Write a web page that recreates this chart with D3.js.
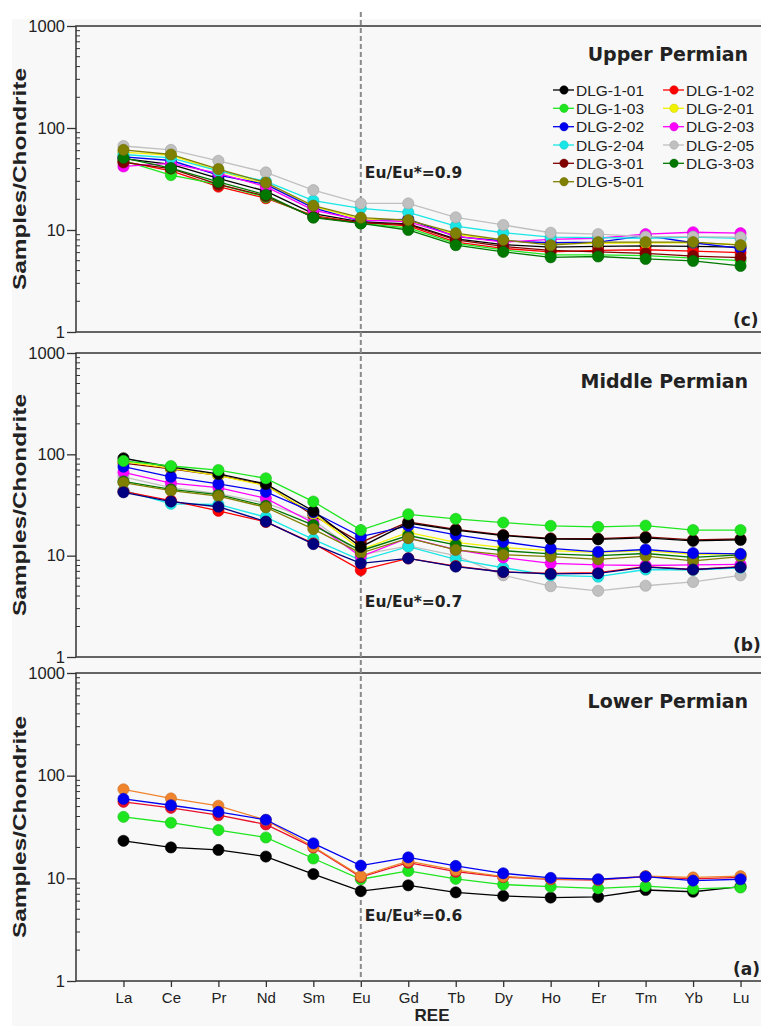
<!DOCTYPE html>
<html>
<head>
<meta charset="utf-8">
<script src="https://cdn.jsdelivr.net/npm/d3@7/dist/d3.min.js"></script>
<style>
  html, body { margin: 0; padding: 0; background: #ffffff; }
  svg { display: block; }
  text { font-family: "Liberation Sans", Arial, sans-serif; fill: #222; }
</style>
</head>
<body>
<svg id="chart" width="761" height="1026"></svg>
<script>
// Rare earth elements along the x axis
const ree = ["La", "Ce", "Pr", "Nd", "Sm", "Eu", "Gd", "Tb", "Dy", "Ho", "Er", "Tm", "Yb", "Lu"];

// Log axis tick labels
const yTicks = [1, 10, 100, 1000];

// Upper Permian samples (chondrite-normalised)
const upperIds = ["DLG-1-01", "DLG-1-02", "DLG-1-03", "DLG-2-01", "DLG-2-02", "DLG-2-03",
                  "DLG-2-04", "DLG-2-05", "DLG-3-01", "DLG-3-03", "DLG-5-01"];
const upperValues = [
  [50, 44, 32, 24, 14.5, 12.0, 11.5, 8.2, 7.2, 6.8, 6.9, 7.0, 6.9, 6.8],
  [47, 38, 26.6, 20.5, 13.8, 11.8, 11.0, 7.6, 6.6, 6.1, 6.3, 6.4, 6.2, 6.0],
  [48, 34.5, 28, 21, 13.5, 11.6, 10.5, 7.4, 6.4, 5.7, 5.7, 5.6, 5.3, 5.0],
  [58, 54, 38, 28, 17, 12.8, 12.4, 9.0, 7.9, 7.3, 7.4, 7.5, 7.5, 7.2],
  [52, 48, 34.5, 28, 16.5, 12.2, 12.8, 8.6, 7.8, 7.5, 7.6, 8.8, 7.5, 6.6],
  [42, 45, 36, 26.6, 15.7, 12.5, 12.1, 8.7, 7.6, 8.1, 8.3, 9.1, 9.5, 9.3],
  [55, 51, 38, 30, 19.4, 16.3, 14.9, 10.9, 9.4, 8.5, 8.4, 8.3, 8.5, 8.3],
  [66.6, 61, 47.7, 36.7, 24.6, 18.2, 18.2, 13.3, 11.2, 9.4, 9.1, 8.6, 8.6, 8.5],
  [46, 40, 28, 21.5, 13.4, 11.8, 11.3, 8.0, 6.9, 6.3, 6.1, 5.9, 5.55, 5.35],
  [51, 40.5, 29.6, 22.1, 13.2, 11.6, 10.0, 7.1, 6.1, 5.4, 5.5, 5.2, 4.97, 4.44],
  [61, 55, 39.6, 29.1, 17.3, 13.2, 12.5, 9.3, 8.0, 7.1, 7.6, 7.6, 7.6, 7.1]
];

// Middle Permian samples
const middleIds = ["DLG-2-05", "DLG-2-04", "DLG-1-02", "DLG-3-01", "DLG-2-03", "DLG-2-01",
                   "DLG-3-03", "DLG-5-01", "DLG-2-02", "DLG-1-01", "DLG-1-03", "DLG-4-01"];
const middleValues = [
  [60, 47, 41, 33, 22.5, 10.2, 12.5, 10.0, 6.4, 5.0, 4.5, 5.05, 5.5, 6.4],
  [44, 32.5, 32, 24, 14.5, 9.0, 12.3, 9.2, 7.6, 6.4, 6.2, 7.3, 7.2, 7.6],
  [43, 35, 27.7, 21.5, 13.2, 7.2, 9.4, 7.9, 6.9, 6.7, 6.8, 7.8, 7.3, 7.8],
  [82, 72, 62, 50, 25, 13.5, 21.5, 18.2, 16.0, 14.8, 14.7, 15.3, 14.3, 14.6],
  [66.5, 52, 47, 36.8, 21, 9.8, 15, 11.5, 9.6, 8.4, 8.1, 8.0, 8.1, 8.2],
  [84.7, 73, 61.6, 49, 26, 11.5, 17, 13.5, 12, 11.2, 10.8, 11.2, 10.3, 10.4],
  [54, 45, 40, 31, 20, 11.2, 15.8, 12.8, 11.2, 10.4, 10.0, 10.5, 9.6, 10.2],
  [52.7, 43.8, 38.7, 30, 18.3, 10.6, 14.9, 11.4, 10.2, 9.8, 9.2, 9.9, 8.9, 9.8],
  [75.5, 60, 51.2, 42.6, 26.8, 15.4, 19.7, 16, 13.7, 11.8, 10.9, 11.5, 10.6, 10.4],
  [91.5, 75, 64, 51, 27.5, 12.2, 21, 17.9, 15.8, 14.6, 14.5, 15, 14, 14.3],
  [86, 76.7, 70, 58, 34.2, 17.9, 25.6, 23.1, 21.2, 19.7, 19.2, 19.8, 17.9, 17.9],
  [42.2, 34.2, 30.4, 21.7, 13, 8.4, 9.4, 7.8, 6.9, 6.6, 6.7, 7.7, 7.3, 7.7]
];

// Lower Permian samples
const lowerIds = ["DLG-L-1", "DLG-L-2", "DLG-L-3", "DLG-L-4", "DLG-L-5"];
const lowerValues = [
  [23.2, 20.0, 18.9, 16.3, 11.0, 7.5, 8.55, 7.3, 6.75, 6.5, 6.6, 7.7, 7.4, 8.3],
  [39.7, 34.8, 29.5, 25.0, 15.6, 9.8, 11.8, 9.9, 8.7, 8.3, 8.0, 8.4, 7.9, 8.15],
  [55.6, 48.6, 41.2, 33.5, 20.0, 10.3, 14.2, 11.6, 10.3, 9.8, 9.6, 10.4, 9.9, 10.2],
  [73.6, 60.0, 50.9, 36.9, 20.3, 10.5, 14.7, 12.0, 10.4, 9.9, 9.7, 10.5, 10.2, 10.5],
  [59.4, 51.5, 44.4, 37.2, 21.9, 13.3, 16.0, 13.2, 11.2, 10.1, 9.8, 10.4, 9.5, 9.8]
];

// Europium anomaly labels per panel
const euLabels = ["Eu/Eu*=0.9", "Eu/Eu*=0.7", "Eu/Eu*=0.6"];
const panelTitles = ["Upper Permian", "Middle Permian", "Lower Permian"];
const panelTags = ["(c)", "(b)", "(a)"];

// ---- styling ----
const sampleColor = {
  "DLG-1-01": "#000000", "DLG-1-02": "#ff0000", "DLG-1-03": "#1ee61e",
  "DLG-2-01": "#f2f200", "DLG-2-02": "#0000f0", "DLG-2-03": "#ff00ff",
  "DLG-2-04": "#19e6e6", "DLG-2-05": "#c0c0c0", "DLG-3-01": "#800000",
  "DLG-3-03": "#007800", "DLG-5-01": "#808000", "DLG-4-01": "#000080",
  "DLG-L-1": "#000000", "DLG-L-2": "#1ee61e", "DLG-L-3": "#e8102a",
  "DLG-L-4": "#f0842c", "DLG-L-5": "#0000f0"
};

const svg = d3.select("#chart");
const W = 761, H = 1026;

svg.append("rect").attr("x", 12).attr("y", 19).attr("width", W - 12).attr("height", H - 19)
  .attr("fill", "#f8f8f8");

const plotLeft = 76, plotRight = 788;
const x = d3.scaleLinear().domain([0, ree.length + 1]).range([plotLeft, plotRight]);

const panels = [
  { top: 26, bottom: 332, ids: upperIds, values: upperValues },
  { top: 353, bottom: 657, ids: middleIds, values: middleValues },
  { top: 673, bottom: 981, ids: lowerIds, values: lowerValues }
];

const line = (y) => d3.line().x((d, i) => x(i + 1)).y(d => y(d));

panels.forEach((p, pi) => {
  const y = d3.scaleLog().domain([1, 1000]).range([p.bottom, p.top]);
  p.y = y;
  const g = svg.append("g");

  // y axis: major ticks outward with labels
  const axis = d3.axisLeft(y).tickValues(yTicks).tickFormat(d3.format("d"))
    .tickSize(9).tickPadding(2);
  const ax = g.append("g").attr("transform", `translate(${plotLeft},0)`).call(axis);
  ax.select(".domain").remove();
  ax.selectAll(".tick line").attr("stroke", "#333").attr("stroke-width", 1.3);
  ax.selectAll(".tick text").style("font-size", "16.5px").attr("fill", "#222")
    .style("font-family", "'Liberation Sans', Arial, sans-serif");

  // minor log ticks, pointing inward
  const minors = [];
  [1, 10, 100].forEach(dec => { for (let k = 2; k <= 9; k++) minors.push(dec * k); });
  g.selectAll("line.minor").data(minors).join("line")
    .attr("x1", plotLeft).attr("x2", plotLeft + 4)
    .attr("y1", d => y(d)).attr("y2", d => y(d))
    .attr("stroke", "#333").attr("stroke-width", 1);

  // frame
  g.append("rect").attr("x", plotLeft).attr("y", p.top)
    .attr("width", plotRight - plotLeft).attr("height", p.bottom - p.top)
    .attr("fill", "none").attr("stroke", "#333").attr("stroke-width", 1.5);

  // axis title
  const cy = (p.top + p.bottom) / 2;
  g.append("text").attr("transform", `translate(26,${cy}) rotate(-90)`)
    .attr("text-anchor", "middle").style("font-size", "18px").style("font-weight", "bold")
    .attr("textLength", 222).attr("lengthAdjust", "spacingAndGlyphs")
    .text("Samples/Chondrite");

  // panel title and tag
  g.append("text").attr("x", 748).attr("y", p.top + 35).attr("text-anchor", "end")
    .style("font-family", "'DejaVu Sans', Verdana, sans-serif")
    .style("font-size", "19px").style("font-weight", "bold").attr("fill", "#333")
    .text(panelTitles[pi]);
  g.append("text").attr("x", 733).attr("y", p.bottom - 6)
    .style("font-family", "'DejaVu Sans', Verdana, sans-serif")
    .style("font-size", "17px").style("font-weight", "bold").attr("fill", "#333")
    .text(panelTags[pi]);
});

// Eu reference line across all three panels
svg.append("line").attr("x1", x(6)).attr("x2", x(6))
  .attr("y1", 12).attr("y2", panels[2].bottom)
  .attr("stroke", "#8a8a8a").attr("stroke-width", 2).attr("stroke-dasharray", "5,3");

// Eu anomaly labels
const euY = [178, 607, 921];
panels.forEach((p, pi) => {
  svg.append("text").attr("x", x(6) + 4).attr("y", euY[pi])
    .style("font-family", "'DejaVu Sans', Verdana, sans-serif")
    .style("font-size", "15.5px").style("font-weight", "bold").attr("fill", "#333")
    .text(euLabels[pi]);
});

// series
panels.forEach(p => {
  const g = svg.append("g");
  p.ids.forEach((id, si) => {
    const c = sampleColor[id];
    const vals = p.values[si];
    g.append("path").datum(vals).attr("d", line(p.y))
      .attr("fill", "none").attr("stroke", c).attr("stroke-width", 1.3);
    g.selectAll(null).data(vals).join("circle")
      .attr("cx", (d, i) => x(i + 1)).attr("cy", d => p.y(d)).attr("r", 5.6)
      .attr("fill", c).attr("stroke", d3.color(c).darker(0.5)).attr("stroke-width", 0.6);
  });
});

// x axis on the bottom panel
const xAxis = d3.axisBottom(x).tickValues(d3.range(1, ree.length + 1))
  .tickFormat(i => ree[i - 1]).tickSize(6).tickPadding(5);
const xg = svg.append("g").attr("transform", `translate(0,${panels[2].bottom})`).call(xAxis);
xg.select(".domain").remove();
xg.selectAll(".tick line").attr("stroke", "#333").attr("stroke-width", 1.3);
xg.selectAll(".tick text").style("font-size", "15px").attr("fill", "#222")
  .style("font-family", "'Liberation Sans', Arial, sans-serif");

svg.append("text").attr("x", (plotLeft + plotRight) / 2).attr("y", 1021)
  .attr("text-anchor", "middle").style("font-size", "17px").style("font-weight", "bold")
  .attr("fill", "#333").text("REE");

// legend in the upper panel
const legendRows = [90, 108.3, 126.7, 145, 163.3, 181.7];
const leg = svg.append("g");
upperIds.forEach((id, i) => {
  const col = i % 2, row = Math.floor(i / 2);
  const lx = col === 0 ? 553 : 663;
  const ly = legendRows[row];
  const c = sampleColor[id];
  leg.append("line").attr("x1", lx).attr("x2", lx + 21).attr("y1", ly).attr("y2", ly)
    .attr("stroke", c).attr("stroke-width", 1.3);
  leg.append("circle").attr("cx", lx + 11).attr("cy", ly).attr("r", 4.2)
    .attr("fill", c).attr("stroke", d3.color(c).darker(0.5)).attr("stroke-width", 0.5);
  leg.append("text").attr("x", lx + 23).attr("y", ly + 5.5)
    .style("font-size", "15.5px").attr("fill", "#333").text(id);
});
</script>
</body>
</html>
